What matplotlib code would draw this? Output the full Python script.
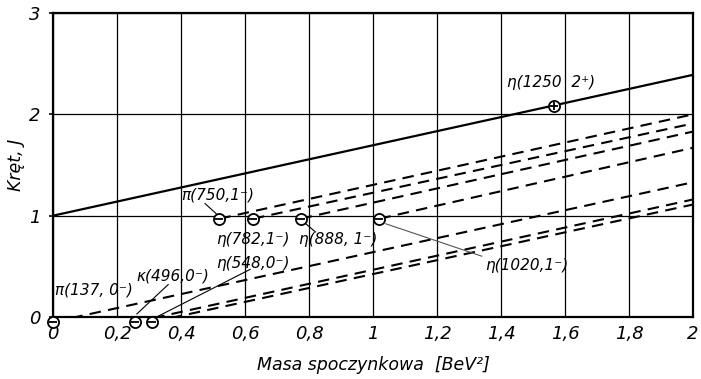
import matplotlib.pyplot as plt
import numpy as np

plt.rcParams['font.family'] = 'DejaVu Sans'
plt.rcParams['font.style'] = 'italic'

# Mesons on the plot: squared mass [BeV^2] and spin J
MASS2 = [0.0, 0.256, 0.31, 0.52, 0.625, 0.774, 1.02]
SPIN = [-0.05, -0.05, -0.05, 0.97, 0.97, 0.97, 0.97]
NAMES = ['π(137, 0⁻)', 'κ(496,0⁻)', 'η(548,0⁻)', 'π(750,1⁻)',
         'η(782,1⁻)', 'η(888, 1⁻)', 'η(1020,1⁻)']
# where each dashed trajectory reaches the right edge (2 BeV^2)
J_AT_2 = [1.33, 1.16, 1.11, 2.0, 1.91, 1.83, 1.67]

# leading trajectory through J=1 at zero mass
SOLID_X = [0.0, 2.0]
SOLID_J = [1.0, 2.39]
ETA_1250 = (1.566, 2.08)

X_TICKS = [0, 0.2, 0.4, 0.6, 0.8, 1.0, 1.2, 1.4, 1.6, 1.8, 2.0]
X_LABELS = ['0', '0,2', '0,4', '0,6', '0,8', '1', '1,2', '1,4', '1,6', '1,8', '2']

fig = plt.figure(figsize=(7.01, 3.79), dpi=100)
ax = fig.add_axes([0.0756, 0.1636, 0.913, 0.802])

ax.set_xlim(0, 2)
ax.set_ylim(0, 3)

ax.plot(SOLID_X, SOLID_J, color='black', lw=1.6)
for x0, j0, j2 in zip(MASS2, SPIN, J_AT_2):
    ax.plot([x0, 2.0], [j0, j2], color='black', lw=1.5, dashes=(5.5, 3.5))

# particle markers: open circle with parity sign inside
ax.plot(MASS2, SPIN, 'o', ms=8, mfc='white', mec='black', mew=1.3, clip_on=False, zorder=5)
ax.plot(MASS2, SPIN, '_', ms=6, mec='black', mew=1.3, clip_on=False, zorder=6)
ax.plot(*ETA_1250, 'o', ms=8, mfc='white', mec='black', mew=1.3, zorder=5)
ax.plot(*ETA_1250, '+', ms=6, mec='black', mew=1.3, zorder=6)

lab = dict(fontsize=11, va='center', ha='left')
ax.text(0.006, 0.27, NAMES[0], **lab)
ax.text(0.26, 0.40, NAMES[1], **lab)
ax.text(0.51, 0.53, NAMES[2], **lab)
ax.text(0.40, 1.20, NAMES[3], **lab)
ax.text(0.51, 0.76, NAMES[4], **lab)
ax.text(0.77, 0.76, NAMES[5], **lab)
ax.text(1.35, 0.51, NAMES[6], **lab)
ax.text(1.42, 2.31, 'η(1250  2⁺)', **lab)

# leader lines from labels to their points
ax.plot([0.36, 0.262], [0.32, 0.03], color='black', lw=0.8, clip_on=False)
ax.plot([0.616, 0.33], [0.47, 0.01], color='black', lw=0.8, clip_on=False)
ax.plot([0.475, 0.51], [1.12, 1.02], color='black', lw=0.8)
ax.plot([0.79, 0.82], [0.92, 0.84], color='black', lw=0.8)
ax.plot([1.04, 1.34], [0.92, 0.60], color='#555555', lw=0.8)

ax.set_xticks(X_TICKS)
ax.set_xticklabels(X_LABELS)
ax.set_yticks([0, 1, 2, 3])
ax.set_yticklabels(['0', '1', '2', '3'])
ax.tick_params(axis='both', labelsize=13, pad=6)
ax.tick_params(axis='x', length=0)
ax.tick_params(axis='y', length=3, width=1.2)

ax.grid(True, color='black', lw=0.9)
for sp in ax.spines.values():
    sp.set_linewidth(1.6)

ax.set_xlabel('Masa spoczynkowa  [BeV²]', fontsize=12.5, labelpad=9)
ax.set_ylabel('Kręt, J', fontsize=12.5, labelpad=3)

fig.savefig('out.png', dpi=100)
